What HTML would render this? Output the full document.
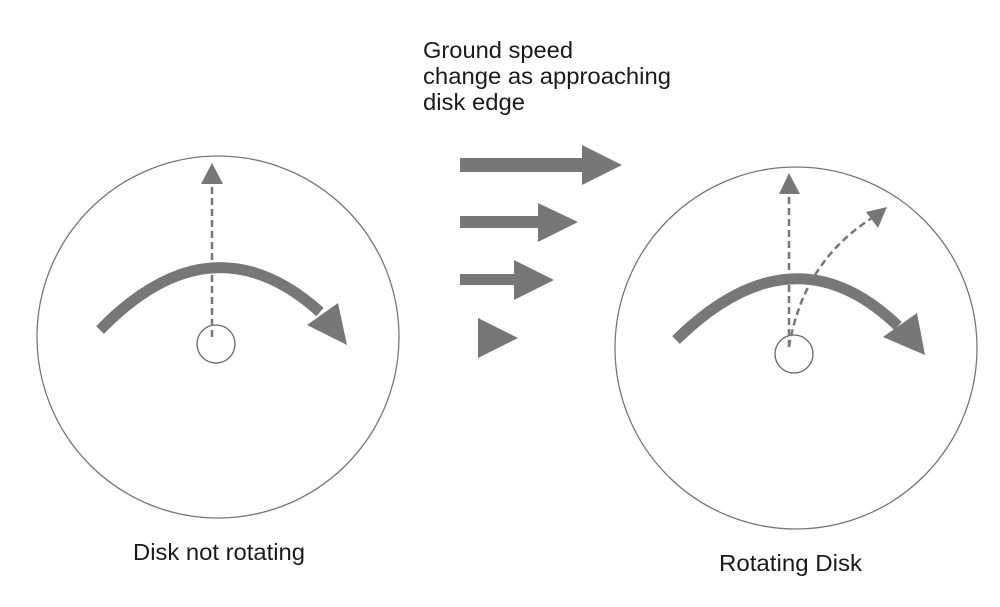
<!DOCTYPE html>
<html><head><meta charset="utf-8"><style>
html,body{margin:0;padding:0;background:#fff;}
svg{display:block;}
text{font-family:"Liberation Sans",Arial,sans-serif;fill:#1a1a1a;font-size:23px;}
</style></head><body>
<svg width="1000" height="607" viewBox="0 0 1000 607" xmlns="http://www.w3.org/2000/svg">
<!-- Left disk -->
<circle cx="218" cy="337" r="181" fill="none" stroke="#777" stroke-width="1.3"/>
<circle cx="216" cy="344" r="19" fill="none" stroke="#666" stroke-width="1.3"/>
<line x1="212" y1="337" x2="212" y2="183" stroke="#777" stroke-width="2.5" stroke-dasharray="7,4"/>
<polygon points="212,163 201,184 223,184" fill="#777"/>
<path d="M100,330 Q212,215 320,312" fill="none" stroke="#777" stroke-width="11"/>
<polygon points="347,345 307,325 338,303" fill="#777"/>
<!-- Middle arrows -->
<rect x="460" y="158" width="124" height="14" fill="#777"/>
<polygon points="582,145 622,165 582,185" fill="#777"/>
<rect x="460" y="216" width="80" height="12" fill="#777"/>
<polygon points="538,203 578,222 538,242" fill="#777"/>
<rect x="460" y="274" width="56" height="11" fill="#777"/>
<polygon points="514,260 554,280 514,300" fill="#777"/>
<polygon points="478,318 518,338 478,358" fill="#777"/>
<!-- Right disk -->
<circle cx="796" cy="348" r="181" fill="none" stroke="#777" stroke-width="1.3"/>
<circle cx="794" cy="354" r="19" fill="none" stroke="#666" stroke-width="1.3"/>
<line x1="789" y1="347" x2="789" y2="192" stroke="#777" stroke-width="2.5" stroke-dasharray="7,4"/>
<polygon points="789,173 779,194 800,194" fill="#777"/>
<path d="M789,347 Q803,262 872,218" fill="none" stroke="#777" stroke-width="2.5" stroke-dasharray="7,4"/>
<polygon points="887,207 866,212 878,228" fill="#777"/>
<path d="M676,340 Q793,225 898,326" fill="none" stroke="#777" stroke-width="11"/>
<polygon points="925,355 883,337 917,313" fill="#777"/>
<!-- Text -->
<text x="423" y="58" textLength="150" lengthAdjust="spacingAndGlyphs">Ground speed</text>
<text x="423" y="84" textLength="248" lengthAdjust="spacingAndGlyphs">change as approaching</text>
<text x="423" y="110" textLength="102" lengthAdjust="spacingAndGlyphs">disk edge</text>
<text x="133" y="560" textLength="172" lengthAdjust="spacingAndGlyphs">Disk not rotating</text>
<text x="719" y="571" textLength="143" lengthAdjust="spacingAndGlyphs">Rotating Disk</text>
</svg>
</body></html>
